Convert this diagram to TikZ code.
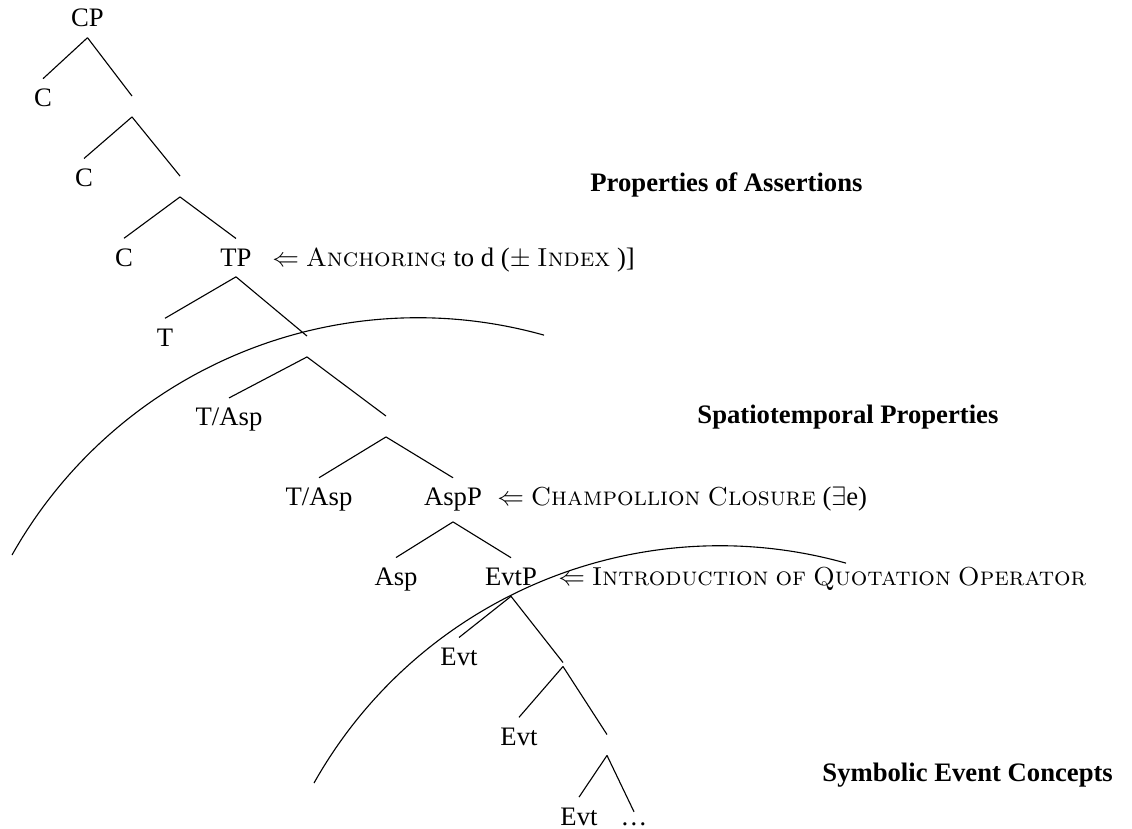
\documentclass[tikz,border=0pt]{standalone}
\usepackage{fontspec}
\setmainfont{Liberation Serif}
\newcommand\lmsc{\fontfamily{lmr}\fontsize{11.7}{14}\selectfont\scshape\spaceskip=0.27em\relax}
\begin{document}
\begin{tikzpicture}[x=0.45pt,y=-0.45pt,
  font=\fontsize{12}{14}\selectfont,
  lab/.style={anchor=base, inner xsep=0pt, inner ysep=4.5pt},
  enode/.style={inner sep=0pt, minimum width=0pt, minimum height=9pt},
  note/.style={anchor=base west, inner sep=0pt},
  region/.style={anchor=base west, inner sep=0pt, font=\fontsize{12}{14}\selectfont\bfseries},
  branch/.style={line width=0.5pt},
  boundary/.style={line width=0.5pt}]
\useasboundingbox (0,0) rectangle (1132,829);
% tree nodes
\node[lab] (CP) at (87.5,27) {CP};
\node[lab] (C1) at (43,106.8) {C};
\node[enode] (e1) at (132,106.5) {};
\node[lab] (C2) at (84,186.6) {C};
\node[enode] (e2) at (180,186.5) {};
\node[lab] (C3) at (124,266.4) {C};
\node[lab] (TP) at (236,266.4) {TP};
\node[lab] (T) at (165,346.2) {T};
\node[enode] (e3) at (307,346.5) {};
\node[lab] (TA1) at (229,426) {T/Asp};
\node[enode] (e4) at (386,426.5) {};
\node[lab] (TA2) at (319,505.8) {T/Asp};
\node[lab] (AspP) at (453,505.8) {AspP};
\node[lab] (Asp) at (396,585.6) {Asp};
\node[lab] (EvtP) at (511,585.6) {EvtP};
\node[lab] (Evt1) at (459,665.4) {Evt};
\node[enode,minimum height=1.4pt] (e5) at (563,664.5) {};
\node[lab] (Evt2) at (519,745.2) {Evt};
\node[enode] (e6) at (607,745) {};
\node[lab] (Evt3) at (579,825) {Evt};
\node[lab] (dots) at (634,825) {\dots};
% branches
\draw[branch] (CP.south) -- (C1.north);
\draw[branch] (CP.south) -- (e1.north);
\draw[branch] (e1.south) -- (C2.north);
\draw[branch] (e1.south) -- (e2.north);
\draw[branch] (e2.south) -- (C3.north);
\draw[branch] (e2.south) -- (TP.north);
\draw[branch] (TP.south) -- (T.north);
\draw[branch] (TP.south) -- (e3.north);
\draw[branch] (e3.south) -- (TA1.north);
\draw[branch] (e3.south) -- (e4.north);
\draw[branch] (e4.south) -- (TA2.north);
\draw[branch] (e4.south) -- (AspP.north);
\draw[branch] (AspP.south) -- (Asp.north);
\draw[branch] (AspP.south) -- (EvtP.north);
\draw[branch] (EvtP.south) -- (Evt1.north);
\draw[branch] (EvtP.south) -- (e5.north);
\draw[branch] (e5.south) -- (Evt2.north);
\draw[branch] (e5.south) -- (e6.north);
\draw[branch] (e6.south) -- (Evt3.north);
\draw[branch] (e6.south) -- (dots.north);
% annotations
\node[note] (a1) at (272,266.4) {$\Leftarrow$ {\lmsc Anchoring} to d ($\pm$ {\lmsc Index} )]};
\node[note] (a2) at (497,505.8) {$\Leftarrow$ {\lmsc Champollion Closure} ($\exists$e)};
\node[note] (a3) at (558,585.6) {$\Leftarrow$ {\lmsc Introduction of Quotation Operator}};
% region labels
\node[region] (r1) at (590,192) {Properties of Assertions};
\node[region] (r2) at (697,424) {Spatiotemporal Properties};
\node[region] (r3) at (822,781) {Symbolic Event Concepts};
% boundaries
\draw[boundary] (12,555) arc[start angle=-150.6, end angle=-74.3, radius=466];
\draw[boundary] (314,783) arc[start angle=-150.6, end angle=-74.3, radius=466];
\end{tikzpicture}
\end{document}
